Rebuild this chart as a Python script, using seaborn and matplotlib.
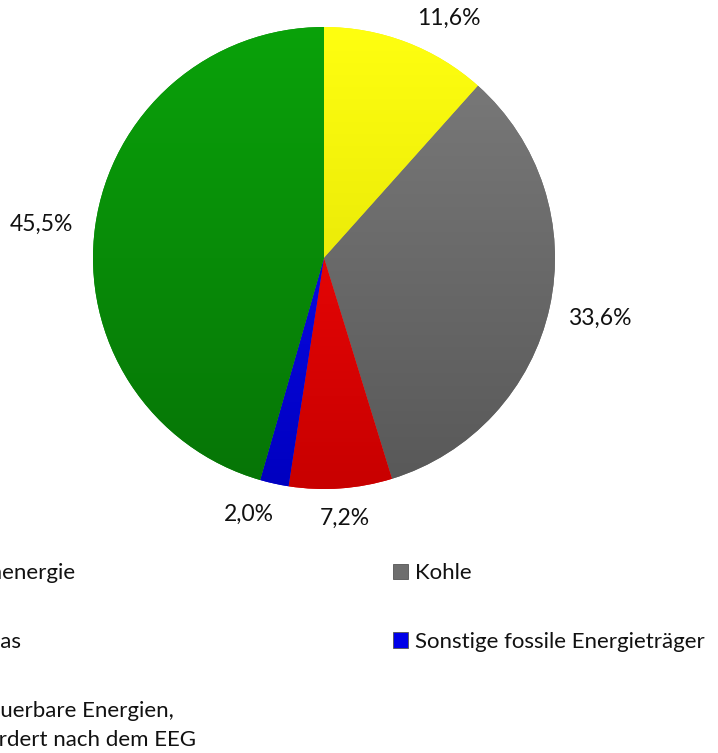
import matplotlib
matplotlib.use("Agg")
import numpy as np
import matplotlib.pyplot as plt
import seaborn as sns
from matplotlib.patches import Patch
from matplotlib.colors import to_rgb

categories = ["Kernenergie", "Kohle", "Erdgas", "Sonstige fossile Energieträger",
              "Erneuerbare Energien,\ngefördert nach dem EEG"]
values = [11.6, 33.6, 7.2, 2.0, 45.5]
colors_top = ["#FFFF10", "#7C7C7C", "#FF0A0A", "#1010FF", "#0AA20A"]
colors_bottom = ["#D8D800", "#585858", "#C80000", "#0000C0", "#067406"]
colors = ["#F0F000", "#6E6E6E", "#E80000", "#0000E8", "#08900A"]
pct_labels = [f"{v:.1f}%".replace(".", ",") for v in values]
label_dist = [1.17, 1.22, 1.13, 1.155, 1.23]
label_shift = [-6.7, 0.0, 0.5, -4.0, 1.2]

sns.set_theme(style="white")
plt.rcParams["font.family"] = ["Lato", "DejaVu Sans"]

W, H = 718, 753
fig = plt.figure(figsize=(W / 100, H / 100), dpi=100)
cx, cy, r = 324, 258, 231
ax = fig.add_axes([(cx - r) / W, (H - cy - r) / H, 2 * r / W, 2 * r / H])

wedges, texts, autotexts = ax.pie(values, colors=colors, startangle=90, counterclock=False,
                                  autopct="%1.1f%%", pctdistance=1.17,
                                  wedgeprops=dict(linewidth=0),
                                  textprops=dict(fontsize=16.5, color="#111111"))
# vertical gradient fill per wedge
t = np.linspace(0, 1, 256)[:, None, None]
for w, top, bot in zip(wedges, colors_top, colors_bottom):
    grad = np.array(to_rgb(top)) * (1 - t) + np.array(to_rgb(bot)) * t
    img = ax.imshow(grad, extent=(-1, 1, -1, 1), origin="upper", aspect="auto",
                    interpolation="bilinear", zorder=w.get_zorder() + 0.1)
    img.set_clip_path(w)

for at, lab, w, d, s in zip(autotexts, pct_labels, wedges, label_dist, label_shift):
    ang = np.deg2rad((w.theta1 + w.theta2) / 2 + s)
    at.set_text(lab)
    at.set_position((d * np.cos(ang), d * np.sin(ang)))
    at.set_zorder(5)

ax.set_xlim(-1, 1)
ax.set_ylim(-1, 1)
ax.set_aspect("equal")
ax.axis("off")

handles = [Patch(facecolor=c, edgecolor="#555555", linewidth=0.6) for c in colors]
leg_order_left = [0, 2, 4]
leg_order_right = [1, 3]
common = dict(frameon=False, fontsize=16, handlelength=0.68, handleheight=0.68,
              handletextpad=0.3, labelspacing=2.2, borderaxespad=0, borderpad=0)
top_y = 1 - 563 / H
leg1 = fig.legend([handles[i] for i in leg_order_left], [categories[i] for i in leg_order_left],
                  loc="upper right", bbox_to_anchor=(196 / W, top_y), **common)
leg2 = fig.legend([handles[i] for i in leg_order_right], [categories[i] for i in leg_order_right],
                  loc="upper left", bbox_to_anchor=(393 / W, top_y), **common)
for lg in (leg1, leg2):
    for tx in lg.get_texts():
        tx.set_color("#111111")
        tx.set_linespacing(1.55)

fig.savefig("out.png", dpi=100)
